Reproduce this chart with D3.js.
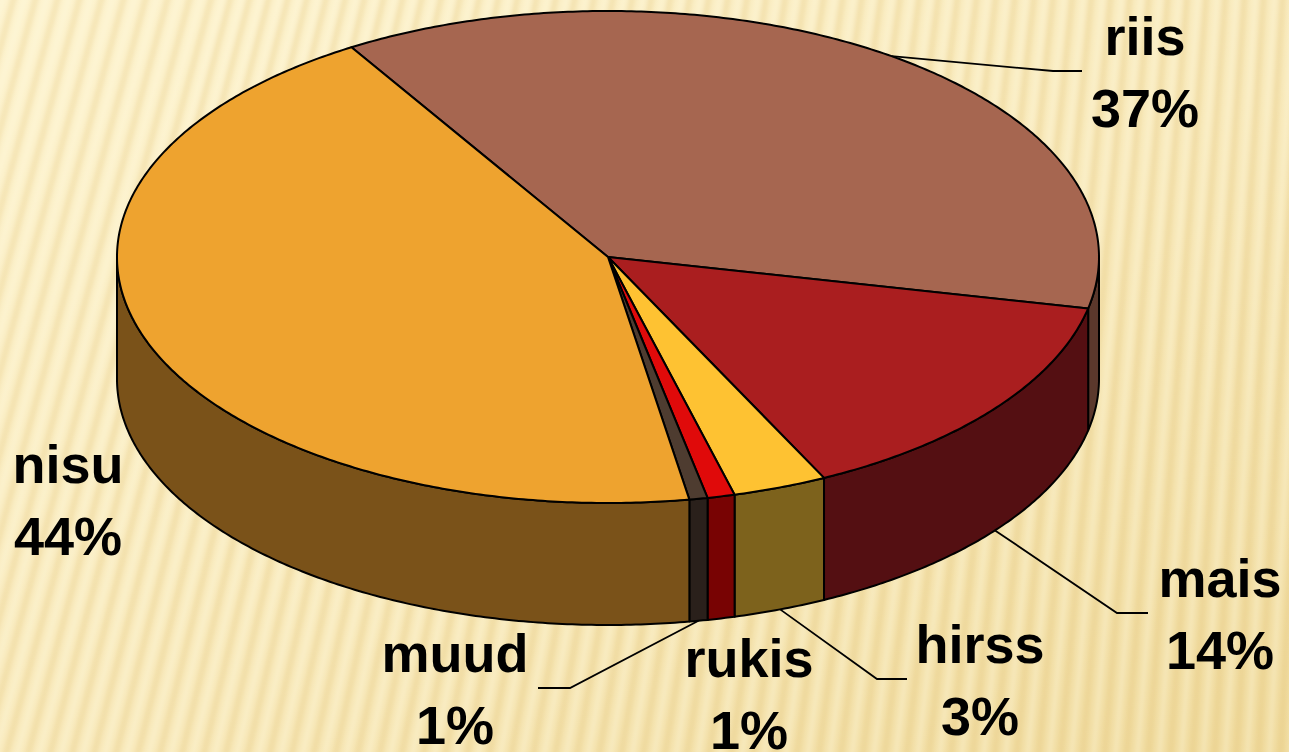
<!DOCTYPE html>
<html>
<head>
<meta charset="utf-8">
<script src="https://cdn.jsdelivr.net/npm/d3@7"></script>
<style>
  html, body { margin: 0; padding: 0; background: #FBEFC6; }
  svg { display: block; }
  text { font-family: "Liberation Sans", Arial, sans-serif; font-weight: bold; }
</style>
</head>
<body>
<svg id="chart" width="1289" height="752"></svg>
<script>
// ---- data ----
const categories = ["riis", "mais", "hirss", "rukis", "muud", "nisu"];
const values = [37.1, 14.4, 3.1, 0.9, 0.6, 43.9];
const topColors = ["#A66650", "#AA1E1F", "#FEC232", "#E00A0A", "#4E3C30", "#EEA32F"];
const sideColors = ["#5B382C", "#540F12", "#7D621C", "#780303", "#2A201B", "#7A5219"];

// ---- layout (label placement, not data) ----
const labelLayout = {
  riis:  { x: 1145, y: 55,  leader: [[1053, 71], [1082, 71]], edge: "top" },
  mais:  { x: 1220, y: 597, leader: [[1117, 613], [1148, 613]], edge: "bottom" },
  hirss: { x: 980,  y: 663, leader: [[877, 679], [907, 679]], edge: "bottom" },
  rukis: { x: 749,  y: 677, leader: null },
  muud:  { x: 455,  y: 672, leader: [[570, 688], [538, 688]], edge: "bottom" },
  nisu:  { x: 68,   y: 483, leader: null }
};

const W = 1289, H = 752;
const cx = 608, cy = 257, rx = 491, ry = 246, depth = 122;
const startDeg = -31.5;
const fontSize = 54, lineGap = 72;

const svg = d3.select("#chart");

// ---- background ----
const defs = svg.append("defs");
const bg = defs.append("linearGradient").attr("id", "bgGrad")
  .attr("x1", "0%").attr("y1", "0%").attr("x2", "100%").attr("y2", "100%");
bg.append("stop").attr("offset", "0%").attr("stop-color", "#FDF3CE");
bg.append("stop").attr("offset", "55%").attr("stop-color", "#F8E9BA");
bg.append("stop").attr("offset", "100%").attr("stop-color", "#F0DB9E");
defs.append("filter").attr("id", "blur").append("feGaussianBlur").attr("stdDeviation", 2.2);

svg.append("rect").attr("width", W).attr("height", H).attr("fill", "url(#bgGrad)");
const stripes = svg.append("g").attr("filter", "url(#blur)");
for (let x = -260; x < W + 60; x += 22) {
  const off = 210 - 170 * Math.max(0, Math.min(1, x / W));
  stripes.append("line")
    .attr("x1", x + off).attr("y1", -10).attr("x2", x).attr("y2", H + 10)
    .attr("stroke", "#D9B864").attr("stroke-opacity", 0.22).attr("stroke-width", 6);
  stripes.append("line")
    .attr("x1", x + 11 + off).attr("y1", -10).attr("x2", x + 11).attr("y2", H + 10)
    .attr("stroke", "#FFFBE8").attr("stroke-opacity", 0.3).attr("stroke-width", 5);
}

// ---- pie geometry ----
const pie = d3.pie().sort(null).value(d => d.v)
  .startAngle(startDeg * Math.PI / 180)
  .endAngle(startDeg * Math.PI / 180 + 2 * Math.PI);
const data = categories.map((c, i) => ({ c, v: values[i], top: topColors[i], side: sideColors[i] }));
const arcs = pie(data);
const total = d3.sum(values);

const px = a => cx + rx * Math.sin(a);
const py = (a, dy = 0) => cy - ry * Math.cos(a) + dy;
const sample = (a0, a1, dy = 0) => {
  const n = Math.max(2, Math.ceil(Math.abs(a1 - a0) / 0.01));
  return d3.range(n + 1).map(k => {
    const a = a0 + (a1 - a0) * k / n;
    return [px(a), py(a, dy)];
  });
};
const line = d3.line();

// sides (front half only)
const sides = svg.append("g");
arcs.forEach(d => {
  const a0 = Math.max(d.startAngle, Math.PI / 2);
  const a1 = Math.min(d.endAngle, 3 * Math.PI / 2);
  if (a1 <= a0) return;
  const pts = sample(a0, a1).concat(sample(a1, a0, depth));
  sides.append("path").attr("d", line(pts) + "Z")
    .attr("fill", d.data.side).attr("stroke", "#000").attr("stroke-width", 2)
    .attr("stroke-linejoin", "round");
});

// tops
const tops = svg.append("g");
arcs.forEach(d => {
  const pts = [[cx, cy]].concat(sample(d.startAngle, d.endAngle));
  tops.append("path").attr("d", line(pts) + "Z")
    .attr("fill", d.data.top).attr("stroke", "#000").attr("stroke-width", 2)
    .attr("stroke-linejoin", "round");
});

// ---- labels ----
const labels = svg.append("g");
arcs.forEach(d => {
  const L = labelLayout[d.data.c];
  const mid = (d.startAngle + d.endAngle) / 2;
  if (L.leader) {
    const start = L.edge === "top" ? [px(mid), py(mid)] : [px(mid), py(mid, depth)];
    labels.append("path").attr("d", line([start].concat(L.leader)))
      .attr("fill", "none").attr("stroke", "#000").attr("stroke-width", 1.8);
  }
  const pct = Math.round(d.data.v / total * 100) + "%";
  labels.append("text").attr("x", L.x).attr("y", L.y).attr("text-anchor", "middle")
    .attr("font-size", fontSize).attr("fill", "#000").text(d.data.c);
  labels.append("text").attr("x", L.x).attr("y", L.y + lineGap).attr("text-anchor", "middle")
    .attr("font-size", fontSize).attr("fill", "#000").text(pct);
});
</script>
</body>
</html>
